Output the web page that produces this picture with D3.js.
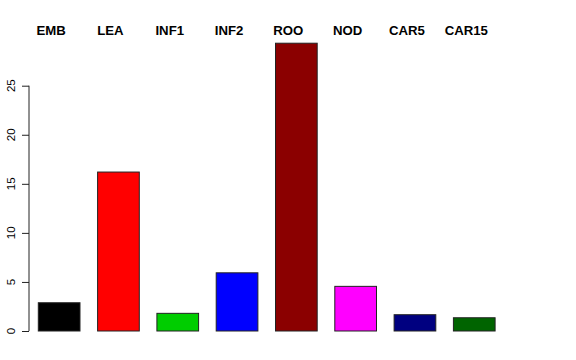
<!DOCTYPE html>
<html><head><meta charset="utf-8">
<script src="https://cdn.jsdelivr.net/npm/d3@7"></script>
<style>body{margin:0;background:#fff}</style>
</head><body>
<svg id="c" width="576" height="360"></svg>
<script>
const categories = ["EMB","LEA","INF1","INF2","ROO","NOD","CAR5","CAR15"];
const values = [2.88, 16.2, 1.8, 5.93, 29.33, 4.55, 1.66, 1.35];
const colors = ["#000000","#FF0000","#00CD00","#0000FF","#8B0000","#FF00FF","#000080","#006400"];
const yTicks = [0,5,10,15,20,25];

const svg = d3.select("#c");
const font = "'Liberation Sans', Arial, Helvetica, sans-serif";
const y = d3.scaleLinear().domain([0, 25]).range([331, 85.7]);
const x = d3.scaleBand().domain(categories).range([38.3, 495.1]).paddingInner(0.297).paddingOuter(0);

svg.selectAll("rect.bar").data(categories).enter().append("rect")
  .attr("class","bar")
  .attr("x", d => x(d))
  .attr("width", x.bandwidth())
  .attr("y", (d,i) => y(values[i]))
  .attr("height", (d,i) => y(0) - y(values[i]))
  .attr("fill", (d,i) => colors[i])
  .attr("stroke", "#222")
  .attr("stroke-width", 1);

// axis
const ax = svg.append("g").attr("transform","translate(29,0)")
  .call(d3.axisLeft(y).tickValues(yTicks).tickSize(7).tickFormat(""));
ax.select(".domain").remove();
ax.selectAll(".tick line").attr("stroke","#222");
ax.append("line").attr("x1",0).attr("x2",0).attr("y1",y(0)).attr("y2",y(25)).attr("stroke","#222");
svg.selectAll("text.yl").data(yTicks).enter().append("text")
  .attr("class","yl")
  .attr("transform", d => `translate(14.5,${y(d)}) rotate(-90)`)
  .attr("text-anchor","middle")
  .attr("font-family", font).attr("font-size", 11.5).attr("fill","#000")
  .text(d => d);

// top labels
svg.selectAll("text.cl").data(categories).enter().append("text")
  .attr("class","cl")
  .attr("x", d => x(d) + x.bandwidth()/2 - 8)
  .attr("y", 35)
  .attr("text-anchor","middle")
  .attr("font-family", font).attr("font-size", 13.2).attr("font-weight","bold").attr("fill","#000")
  .text(d => d);
</script>
</body></html>
